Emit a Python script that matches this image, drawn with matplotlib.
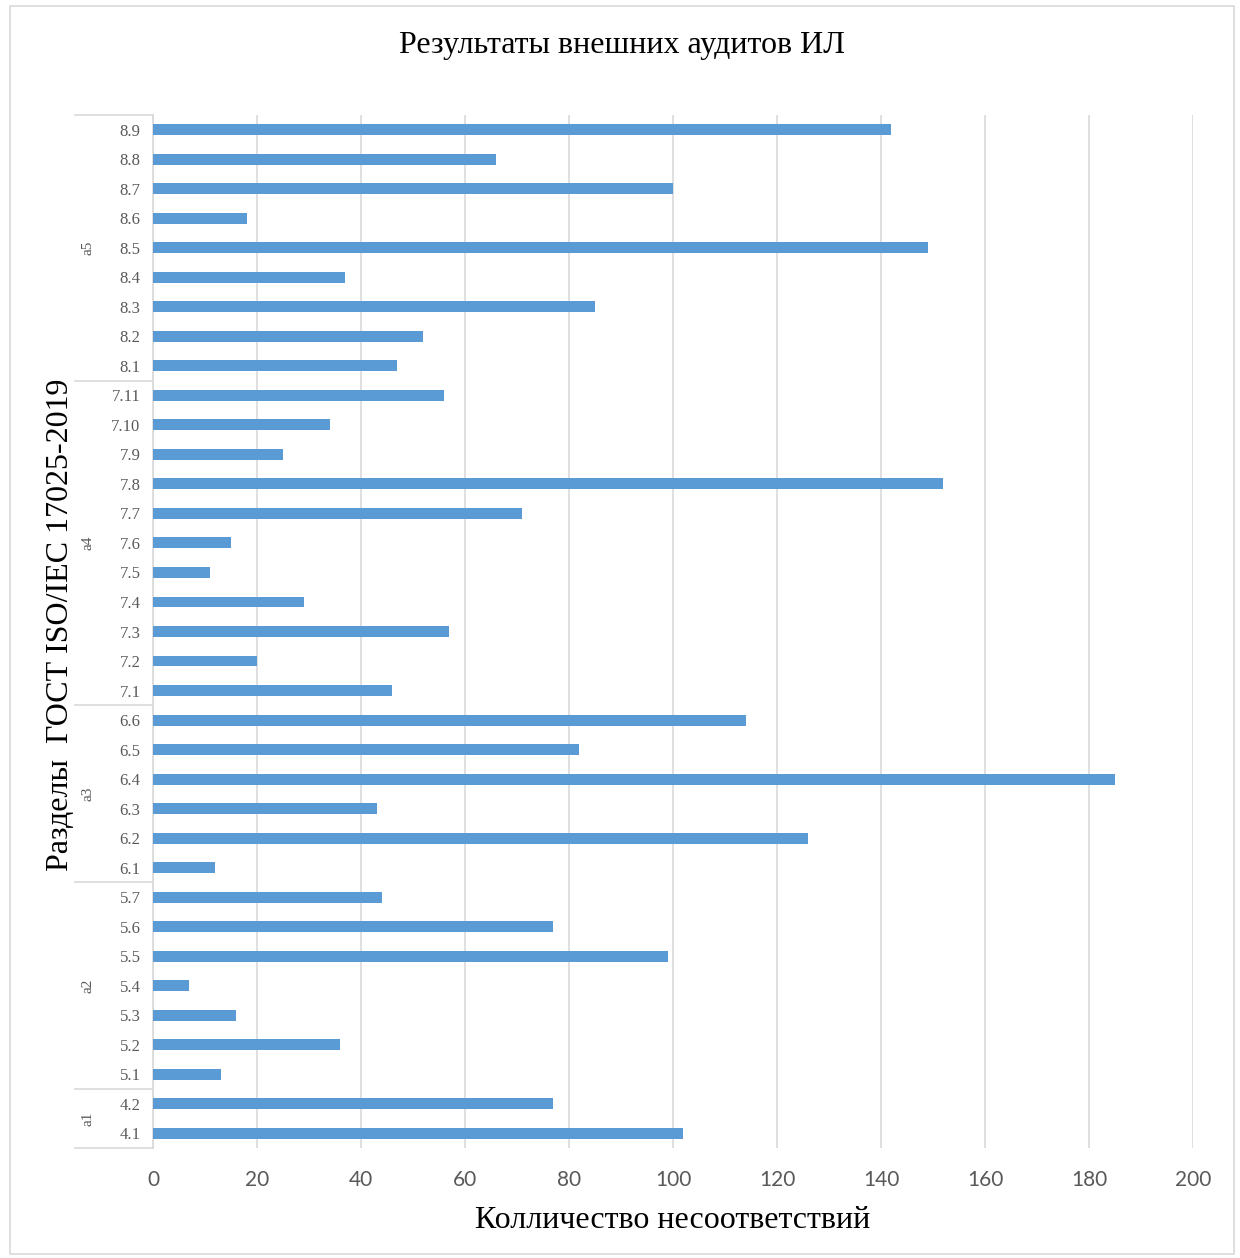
import matplotlib
matplotlib.use("Agg")
import matplotlib.pyplot as plt
import matplotlib.transforms as mtransforms
from matplotlib.patches import Rectangle

categories = ["4.1", "4.2",
              "5.1", "5.2", "5.3", "5.4", "5.5", "5.6", "5.7",
              "6.1", "6.2", "6.3", "6.4", "6.5", "6.6",
              "7.1", "7.2", "7.3", "7.4", "7.5", "7.6", "7.7", "7.8", "7.9", "7.10", "7.11",
              "8.1", "8.2", "8.3", "8.4", "8.5", "8.6", "8.7", "8.8", "8.9"]
values = [102, 77,
          13, 36, 16, 7, 99, 77, 44,
          12, 126, 43, 185, 82, 114,
          46, 20, 57, 29, 11, 15, 71, 152, 25, 34, 56,
          47, 52, 85, 37, 149, 18, 100, 66, 142]
groups = ["a1", "a2", "a3", "a4", "a5"]
group_sizes = [2, 7, 6, 11, 9]
xticks = [0, 20, 40, 60, 80, 100, 120, 140, 160, 180, 200]

title = "Результаты внешних аудитов ИЛ"
xlabel = "Колличество несоответствий"
ylabel = "Разделы  ГОСТ ISO/IEC 17025-2019"

serif = ["Liberation Serif", "DejaVu Serif"]
sans = ["Lato", "DejaVu Sans"]
W, H = 1240, 1258
fig = plt.figure(figsize=(W / 100, H / 100), dpi=100)
fig.patches.append(Rectangle((10 / W, 1 - 1254 / H), 1224 / W, 1248 / H,
                             transform=fig.transFigure, fill=False,
                             edgecolor="#d9d9d9", linewidth=1.2))

ax = fig.add_axes([153 / W, 1 - 1148 / H, (1193 - 153) / W, (1148 - 115) / H])
pos = list(range(len(categories)))
ax.barh(pos, values, height=0.37, color="#5b9bd5", zorder=3)
ax.set_ylim(-0.5, len(categories) - 0.5)
ax.set_xlim(0, 200)
ax.set_xticks(xticks)
ax.set_xticklabels([str(t) for t in xticks], fontsize=15, color="#595959", family=sans)
ax.set_yticks(pos)
ax.set_yticklabels(categories, fontsize=12, color="#595959", family=serif)
ax.tick_params(length=0)
ax.tick_params(axis="x", pad=16)
ax.tick_params(axis="y", pad=9)
ax.grid(axis="x", color="#d9d9d9", linewidth=1.2, zorder=0)
for s in ["top", "right", "bottom"]:
    ax.spines[s].set_visible(False)
ax.spines["left"].set_color("#d9d9d9")
ax.spines["left"].set_linewidth(1.2)

trans = mtransforms.blended_transform_factory(ax.transAxes, ax.transData)
x0 = (75 - 153) / (1193 - 153)
edge = -0.5
ax.plot([x0, 0], [edge, edge], transform=trans, color="#d9d9d9", lw=1.2, clip_on=False)
for g, n in zip(groups, group_sizes):
    mid = edge + n / 2
    ax.text((88 - 153) / (1193 - 153), mid, g, transform=trans, rotation=90,
            ha="center", va="center", fontsize=11, color="#595959", family=serif)
    edge += n
    ax.plot([x0, 0], [edge, edge], transform=trans, color="#d9d9d9", lw=1.2, clip_on=False)

fig.text(622 / W, 1 - 45 / H, title, ha="center", va="center", fontsize=23, family=serif)
fig.text(673 / W, 1 - 1220 / H, xlabel, ha="center", va="center", fontsize=23, family=serif)
fig.text(61 / W, 1 - 625 / H, ylabel, ha="center", va="center", rotation=90, fontsize=23, family=serif)

fig.savefig("out.png", dpi=100)
